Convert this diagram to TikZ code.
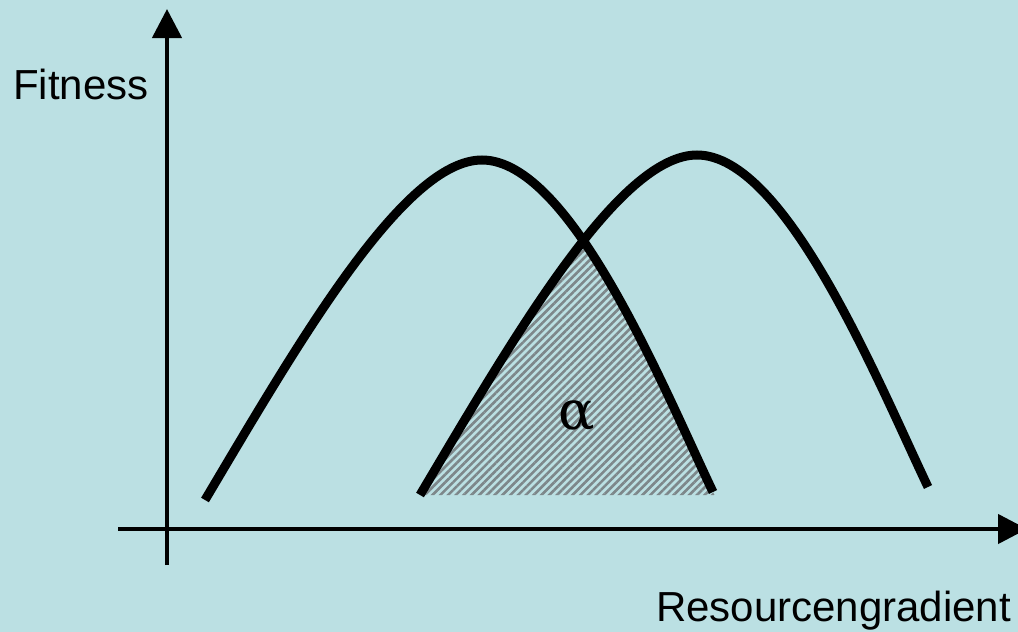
\documentclass[tikz,border=0pt]{standalone}
\usepackage{fontspec}
\setmainfont{Liberation Sans}
\newfontfamily\greekserif{DejaVu Serif}
\usetikzlibrary{arrows.meta,patterns.meta}
\definecolor{bg}{RGB}{187,224,227}
\definecolor{hatchcol}{RGB}{125,135,138}
\tikzset{
  axisline/.style={line width=4.5pt,-{Triangle[width=29pt,length=29pt]}},
  fitcurve/.style={line width=9pt,line cap=butt},
  hatchfill/.style={pattern={Lines[angle=45,distance=5.5pt,line width=2.6pt]},pattern color=hatchcol},
  labeltext/.style={inner sep=0pt,font=\fontsize{42}{48}\selectfont},
}
\begin{document}
\begin{tikzpicture}[x=1pt,y=-1pt]
\useasboundingbox (0,0) rectangle (1018,632);
\fill[bg] (0,0) rectangle (1018,632);
\clip (0,0) rectangle (1018,632);

% hatched overlap
\begin{scope}
  \clip (420,495) .. controls (515,335) and (619,155) .. (697,155) -- (1018,155) -- (1018,495) -- cycle;
  \clip (482,160) .. controls (571,160) and (663,387) .. (713,492) -- (714.5,495) -- (0,495) -- (0,160) -- cycle;
  \fill[hatchfill] (400,150) rectangle (750,500);
\end{scope}

% axes
\coordinate (yb) at (167,565);
\coordinate (yt) at (167,9);
\coordinate (xl) at (118,529);
\coordinate (xr) at (1027,529);
\draw[axisline] (yb) -- (yt);
\draw[axisline] (xl) -- (xr);

% curves
\draw[fitcurve] (205,500) .. controls (300,340) and (404,160) .. (482,160)
  .. controls (571,160) and (663,387) .. (713,492);
\draw[fitcurve,shift={(215,-5)}] (205,500) .. controls (300,340) and (404,160) .. (482,160)
  .. controls (571,160) and (663,387) .. (713,492);

% labels
\node[labeltext,anchor=base west] (fit) at (13,99) {Fitness};
\node[labeltext,anchor=base west] (res) at (656,621) {Resourcengradient};
\node[inner sep=0pt,font=\greekserif\fontsize{54}{60}\selectfont] (alpha) at (577,416) {α};
\end{tikzpicture}
\end{document}
